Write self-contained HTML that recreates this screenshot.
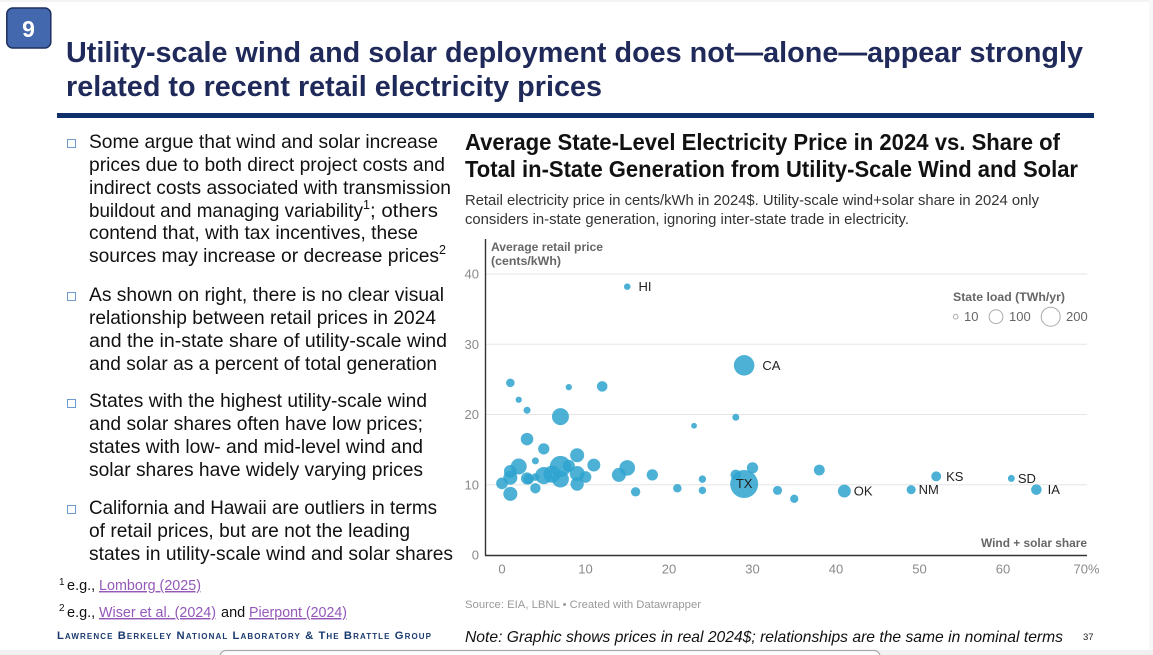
<!DOCTYPE html>
<html lang="en">
<head>
<meta charset="utf-8">
<title>Utility-scale wind and solar deployment</title>
<style>
html,body{margin:0;padding:0;background:#fff;width:1153px;height:655px;overflow:hidden}
svg{display:block;font-family:"Liberation Sans",Arial,sans-serif}
.body{font-size:19.8px;fill:#111}
.sup{font-size:12.5px;fill:#111}
.ctitle{font-size:23px;font-weight:700;fill:#111}
.csub{font-size:14.5px;fill:#333}
.axt{font-size:12px;font-weight:700;fill:#666}
.tick{font-size:13px;fill:#8a8a8a}
.leg{font-size:13px;fill:#666}
.fn{font-size:14.5px;fill:#111}
.link{font-size:14.5px;fill:#9358b8;text-decoration:underline}
.lab{font-size:13px;fill:#222}
.bul{fill:#fff;stroke:#6d9bd0;stroke-width:1}
</style>
</head>
<body>
<svg id="slide" xmlns="http://www.w3.org/2000/svg" width="1153" height="655" viewBox="0 0 1153 655">
<rect x="0" y="0" width="1153" height="2" fill="#f3f3f3"/>
<rect x="1149" y="0" width="4" height="655" fill="#f8f8f8"/>
<rect x="6.8" y="8" width="44" height="40" rx="6" fill="#4468ae" stroke="#1f2f5f" stroke-width="1.5"/>
<text x="28.5" y="37" text-anchor="middle" font-size="23" font-weight="700" fill="#fff">9</text>
<text x="66" y="62" font-size="29" font-weight="700" fill="#1f2a5a" textLength="1017" lengthAdjust="spacingAndGlyphs">Utility-scale wind and solar deployment does not—alone—appear strongly</text>
<text x="66" y="96" font-size="29" font-weight="700" fill="#1f2a5a" textLength="536" lengthAdjust="spacingAndGlyphs">related to recent retail electricity prices</text>
<rect x="57" y="113" width="1037" height="5" fill="#0f2f6b"/>

<rect class="bul" x="67.5" y="139.5" width="8" height="8"/>
<text class="body" x="89" y="148" textLength="349" lengthAdjust="spacingAndGlyphs">Some argue that wind and solar increase</text>
<text class="body" x="89" y="171" textLength="356" lengthAdjust="spacingAndGlyphs">prices due to both direct project costs and</text>
<text class="body" x="89" y="194" textLength="362" lengthAdjust="spacingAndGlyphs">indirect costs associated with transmission</text>
<text class="body" x="89" y="217" textLength="274" lengthAdjust="spacingAndGlyphs">buildout and managing variability</text>
<text class="sup" x="363" y="209">1</text>
<text class="body" x="370" y="217" textLength="68" lengthAdjust="spacingAndGlyphs">; others</text>
<text class="body" x="89" y="239" textLength="329" lengthAdjust="spacingAndGlyphs">contend that, with tax incentives, these</text>
<text class="body" x="89" y="262" textLength="350" lengthAdjust="spacingAndGlyphs">sources may increase or decrease prices</text>
<text class="sup" x="439" y="254">2</text>

<rect class="bul" x="67.5" y="292.5" width="8" height="8"/>
<text class="body" x="89" y="301" textLength="355" lengthAdjust="spacingAndGlyphs">As shown on right, there is no clear visual</text>
<text class="body" x="89" y="324" textLength="347" lengthAdjust="spacingAndGlyphs">relationship between retail prices in 2024</text>
<text class="body" x="89" y="347" textLength="358" lengthAdjust="spacingAndGlyphs">and the in-state share of utility-scale wind</text>
<text class="body" x="89" y="370" textLength="348" lengthAdjust="spacingAndGlyphs">and solar as a percent of total generation</text>

<rect class="bul" x="67.5" y="399.5" width="8" height="8"/>
<text class="body" x="89" y="407" textLength="338" lengthAdjust="spacingAndGlyphs">States with the highest utility-scale wind</text>
<text class="body" x="89" y="430" textLength="334" lengthAdjust="spacingAndGlyphs">and solar shares often have low prices;</text>
<text class="body" x="89" y="453" textLength="334" lengthAdjust="spacingAndGlyphs">states with low- and mid-level wind and</text>
<text class="body" x="89" y="476" textLength="334" lengthAdjust="spacingAndGlyphs">solar shares have widely varying prices</text>

<rect class="bul" x="67.5" y="505.5" width="8" height="8"/>
<text class="body" x="89" y="514" textLength="348" lengthAdjust="spacingAndGlyphs">California and Hawaii are outliers in terms</text>
<text class="body" x="89" y="537" textLength="321" lengthAdjust="spacingAndGlyphs">of retail prices, but are not the leading</text>
<text class="body" x="89" y="560" textLength="364" lengthAdjust="spacingAndGlyphs">states in utility-scale wind and solar shares</text>

<text x="59" y="585" font-size="10" fill="#111">1</text>
<text class="fn" x="67" y="590">e.g.,</text>
<text class="link" x="99" y="590" textLength="102" lengthAdjust="spacingAndGlyphs">Lomborg (2025)</text>
<text x="59" y="611" font-size="10" fill="#111">2</text>
<text class="fn" x="67" y="617">e.g.,</text>
<text class="link" x="99" y="617" textLength="117" lengthAdjust="spacingAndGlyphs">Wiser et al. (2024)</text>
<text class="fn" x="221" y="617">and</text>
<text class="link" x="249" y="617" textLength="98" lengthAdjust="spacingAndGlyphs">Pierpont (2024)</text>
<text x="57" y="639" font-size="11.2" font-weight="700" fill="#1a3a6e" style="font-variant:small-caps" textLength="374" lengthAdjust="spacing">Lawrence Berkeley National Laboratory &amp; The Brattle Group</text>

<text class="ctitle" x="465" y="150" textLength="595" lengthAdjust="spacingAndGlyphs">Average State-Level Electricity Price in 2024 vs. Share of</text>
<text class="ctitle" x="465" y="177" textLength="613" lengthAdjust="spacingAndGlyphs">Total in-State Generation from Utility-Scale Wind and Solar</text>
<text class="csub" x="465" y="205" textLength="574" lengthAdjust="spacingAndGlyphs">Retail electricity price in cents/kWh in 2024$. Utility-scale wind+solar share in 2024 only</text>
<text class="csub" x="465" y="224" textLength="444" lengthAdjust="spacingAndGlyphs">considers in-state generation, ignoring inter-state trade in electricity.</text>

<g id="grid"></g>
<g id="points"></g>
<g id="labels"></g>
<g id="ticks"></g>
<line x1="485.5" y1="239" x2="485.5" y2="555.5" stroke="#333" stroke-width="1.4"/>
<line x1="485" y1="555.5" x2="1087" y2="555.5" stroke="#333" stroke-width="1.4"/>

<text class="axt" x="491" y="251" textLength="112" lengthAdjust="spacingAndGlyphs">Average retail price</text>
<text class="axt" x="491" y="265" textLength="70" lengthAdjust="spacingAndGlyphs">(cents/kWh)</text>
<text class="axt" x="981" y="547" textLength="106" lengthAdjust="spacingAndGlyphs">Wind + solar share</text>

<text class="axt" x="953" y="301" textLength="112" lengthAdjust="spacingAndGlyphs">State load (TWh/yr)</text>
<circle cx="955.7" cy="316.7" r="2.3" fill="none" stroke="#aaa"/>
<text class="leg" x="964" y="321">10</text>
<circle cx="996" cy="316.7" r="6.9" fill="none" stroke="#aaa"/>
<text class="leg" x="1009" y="321">100</text>
<circle cx="1050.7" cy="316.7" r="9.5" fill="none" stroke="#aaa"/>
<text class="leg" x="1066" y="321">200</text>

<text x="465" y="608" font-size="11" fill="#999" textLength="236" lengthAdjust="spacingAndGlyphs">Source: EIA, LBNL • Created with Datawrapper</text>
<text x="465" y="642" font-size="16" font-style="italic" fill="#111" textLength="598" lengthAdjust="spacingAndGlyphs">Note: Graphic shows prices in real 2024$; relationships are the same in nominal terms</text>
<text x="1083" y="640" font-size="9.5" fill="#222">37</text>

<rect x="0" y="650" width="1153" height="5" fill="#f1f1f1"/>
<rect x="220" y="650.5" width="660" height="12" rx="6" fill="#fff" stroke="#a8a8a8" stroke-width="1.2"/>

<script>
var xTicks = [0, 10, 20, 30, 40, 50, 60, 70];
var yTicks = [0, 10, 20, 30, 40];
var shares = [15, 29, 1, 2, 3, 8, 12, 7, 23, 28, 3, 5, 4, 9, 11, 7, 8, 2, 1, 1, 0, 1, 3, 3.2, 4, 4, 5, 6, 7, 9, 9, 10, 14, 15, 18, 16, 21, 24, 24, 28, 29, 30, 33, 35, 38, 41, 49, 52, 61, 64];
var prices = [38.2, 27, 24.5, 22.1, 20.6, 23.9, 24, 19.7, 18.4, 19.6, 16.5, 15.1, 13.4, 14.2, 12.8, 12.6, 12.7, 12.6, 11.9, 11, 10.2, 8.7, 10.9, 10.8, 11.1, 9.5, 11.3, 11.5, 10.8, 11.6, 10.1, 11.1, 11.4, 12.4, 11.4, 9, 9.5, 10.8, 9.2, 11.4, 10.1, 12.4, 9.2, 8, 12.1, 9.1, 9.3, 11.2, 10.9, 9.3];
var loads = [22, 215, 37, 20, 25, 20, 57, 147, 17, 25, 80, 65, 25, 100, 85, 230, 75, 130, 85, 100, 70, 100, 75, 55, 30, 55, 150, 150, 145, 115, 90, 70, 100, 125, 65, 45, 37, 28, 28, 57, 400, 65, 42, 35, 60, 85, 42, 50, 25, 57];
var stateCodes = ["HI", "CA", "", "", "", "", "", "", "", "", "", "", "", "", "", "", "", "", "", "", "", "", "", "", "", "", "", "", "", "", "", "", "", "", "", "", "", "", "", "", "TX", "", "", "", "", "OK", "NM", "KS", "SD", "IA"];

var NS = "http://www.w3.org/2000/svg";
var plotLeft = 502, pxPerShare = 8.35, plotBase = 555, pxPerPrice = 7.025;
function xScale(v) { return plotLeft + v * pxPerShare; }
function yScale(v) { return plotBase - v * pxPerPrice; }
function rScale(v) { return 0.7 * Math.sqrt(v); }
var labelGap = { HI: 8, CA: 8, OK: 3, NM: 3, KS: 5, SD: 3, IA: 6 };

var gridGroup = document.getElementById("grid");
var tickGroup = document.getElementById("ticks");
yTicks.forEach(function (t) {
  if (t > 0) {
    var gl = document.createElementNS(NS, "line");
    
    
    gl.setAttribute("x1", 486);
    gl.setAttribute("x2", 1087);
    gl.setAttribute("y1", yScale(t));
    gl.setAttribute("y2", yScale(t));
    gl.setAttribute("stroke", "#e6e6e6");
    gl.setAttribute("stroke-width", "1");
    gridGroup.appendChild(gl);
  }
  var yl = document.createElementNS(NS, "text");
  
  
  yl.setAttribute("class", "tick");
  yl.setAttribute("x", 479);
  yl.setAttribute("y", yScale(t) + 4.5);
  yl.setAttribute("text-anchor", "end");
  yl.textContent = t;
  tickGroup.appendChild(yl);
});
xTicks.forEach(function (t) {
  var xl = document.createElementNS(NS, "text");
  
  
  xl.setAttribute("class", "tick");
  xl.setAttribute("x", xScale(t));
  xl.setAttribute("y", 573.5);
  xl.setAttribute("text-anchor", "middle");
  xl.textContent = t === 70 ? "70%" : t;
  tickGroup.appendChild(xl);
});

var pointGroup = document.getElementById("points");
var labelGroup = document.getElementById("labels");
shares.forEach(function (s, i) {
  var c = document.createElementNS(NS, "circle");
  
  
  c.setAttribute("cx", xScale(s));
  c.setAttribute("cy", yScale(prices[i]));
  c.setAttribute("r", rScale(loads[i]));
  c.setAttribute("fill", "#2ea3cf");
  c.setAttribute("fill-opacity", "0.85");
  pointGroup.appendChild(c);
  var code = stateCodes[i];
  if (code) {
    var t = document.createElementNS(NS, "text");
    
    
    t.setAttribute("class", "lab");
    if (code === "TX") {
      t.setAttribute("x", xScale(s));
      t.setAttribute("text-anchor", "middle");
      t.setAttribute("y", yScale(prices[i]) + 4);
    } else {
      t.setAttribute("x", xScale(s) + rScale(loads[i]) + labelGap[code]);
      t.setAttribute("y", yScale(prices[i]) + 4.5);
    }
    t.textContent = code;
    labelGroup.appendChild(t);
  }
});
</script>
</svg>
</body>
</html>
